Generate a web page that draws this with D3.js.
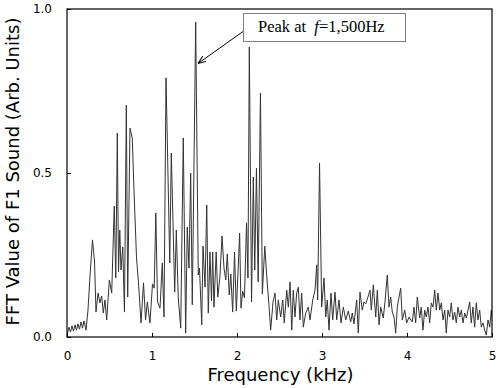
<!DOCTYPE html>
<html><head><meta charset="utf-8">
<script src="https://cdn.jsdelivr.net/npm/d3@7/dist/d3.min.js"></script>
<style>body{margin:0;background:#fff}svg{display:block}</style>
</head><body>
<svg id="c" width="500" height="388"></svg>
<script>
const freqKHz = [0.006,0.024,0.041,0.059,0.076,0.094,0.112,0.129,0.147,0.165,0.182,0.200,0.224,0.247,0.271,0.300,0.324,0.341,0.365,0.388,0.408,0.427,0.447,0.467,0.498,0.526,0.556,0.574,0.592,0.606,0.621,0.635,0.656,0.676,0.698,0.714,0.741,0.768,0.788,0.818,0.841,0.871,0.900,0.924,0.945,0.976,1.006,1.026,1.045,1.065,1.094,1.121,1.141,1.165,1.185,1.209,1.227,1.247,1.267,1.286,1.309,1.338,1.368,1.396,1.415,1.435,1.455,1.474,1.514,1.544,1.559,1.585,1.600,1.624,1.644,1.662,1.682,1.700,1.714,1.729,1.755,1.774,1.798,1.824,1.847,1.868,1.886,1.909,1.927,1.949,1.971,1.992,2.014,2.031,2.047,2.067,2.088,2.112,2.129,2.145,2.171,2.192,2.209,2.229,2.249,2.276,2.298,2.327,2.353,2.376,2.396,2.424,2.447,2.467,2.486,2.514,2.538,2.556,2.585,2.604,2.624,2.644,2.662,2.682,2.702,2.721,2.741,2.761,2.780,2.808,2.839,2.859,2.891,2.918,2.938,2.949,2.971,2.996,3.024,3.044,3.062,3.082,3.106,3.126,3.153,3.173,3.200,3.224,3.251,3.279,3.309,3.338,3.356,3.376,3.408,3.427,3.447,3.474,3.494,3.514,3.541,3.565,3.580,3.604,3.632,3.651,3.671,3.691,3.721,3.741,3.768,3.788,3.808,3.827,3.847,3.867,3.886,3.906,3.926,3.945,3.973,3.996,4.024,4.044,4.062,4.082,4.102,4.121,4.149,4.168,4.188,4.208,4.227,4.247,4.267,4.286,4.306,4.326,4.345,4.365,4.385,4.404,4.424,4.444,4.462,4.482,4.502,4.521,4.541,4.561,4.580,4.600,4.620,4.639,4.659,4.679,4.698,4.718,4.738,4.756,4.776,4.796,4.815,4.835,4.855,4.874,4.894,4.914,4.933,4.953,4.973,4.992,5.000];
const fftValue = [0.012,0.030,0.015,0.034,0.018,0.037,0.021,0.040,0.024,0.046,0.027,0.049,0.021,0.082,0.189,0.296,0.229,0.076,0.134,0.104,0.125,0.073,0.113,0.052,0.174,0.134,0.399,0.180,0.622,0.198,0.326,0.204,0.274,0.076,0.707,0.122,0.637,0.607,0.448,0.241,0.165,0.043,0.165,0.052,0.107,0.043,0.162,0.149,0.378,0.107,0.088,0.226,0.061,0.790,0.534,0.226,0.561,0.351,0.137,0.326,0.119,0.027,0.607,0.012,0.335,0.210,0.500,0.098,0.960,0.189,0.210,0.037,0.277,0.152,0.402,0.073,0.259,0.110,0.259,0.091,0.259,0.122,0.180,0.308,0.210,0.174,0.253,0.128,0.192,0.076,0.259,0.079,0.210,0.317,0.088,0.140,0.119,0.348,0.180,0.884,0.107,0.488,0.204,0.515,0.168,0.744,0.131,0.277,0.174,0.098,0.021,0.107,0.134,0.052,0.113,0.061,0.113,0.043,0.143,0.091,0.168,0.021,0.143,0.061,0.134,0.152,0.052,0.134,0.030,0.073,0.091,0.052,0.113,0.143,0.220,0.113,0.530,0.091,0.180,0.061,0.113,0.021,0.134,0.052,0.137,0.052,0.113,0.043,0.091,0.052,0.079,0.046,0.073,0.040,0.113,0.012,0.137,0.082,0.107,0.101,0.122,0.143,0.082,0.159,0.061,0.143,0.037,0.091,0.058,0.107,0.189,0.091,0.122,0.076,0.061,0.012,0.091,0.122,0.149,0.052,0.082,0.043,0.061,0.052,0.046,0.091,0.043,0.122,0.058,0.091,0.021,0.082,0.061,0.091,0.043,0.104,0.091,0.143,0.082,0.134,0.082,0.104,0.052,0.082,0.012,0.082,0.061,0.104,0.052,0.076,0.043,0.091,0.061,0.082,0.043,0.073,0.058,0.082,0.107,0.043,0.091,0.030,0.104,0.052,0.082,0.030,0.043,0.021,0.006,0.052,0.030,0.082,0.061];
const xTicks = [0,1,2,3,4,5];
const yTicks = [0.0,0.5,1.0];
const xTitle = "Frequency (kHz)";
const yTitle = "FFT Value of F1 Sound (Arb. Units)";
const peakFreq = 1.514, peakVal = 0.960;

const svg = d3.select("#c");
const L = 67, R = 492, T = 9, B = 337;
const x = d3.scaleLinear().domain([0,5]).range([L,R]);
const y = d3.scaleLinear().domain([0,1]).range([B,T]);
const data = freqKHz.map((f,i)=>({f, v: fftValue[i]}));

svg.append("defs").append("clipPath").attr("id","clip")
  .append("rect").attr("x",L).attr("y",T).attr("width",R-L).attr("height",B-T);

svg.append("path").datum(data)
  .attr("clip-path","url(#clip)")
  .attr("fill","none").attr("stroke","#333").attr("stroke-width",1)
  .attr("d", d3.line().x(d=>x(d.f)).y(d=>y(d.v)));

const font = "'DejaVu Sans', Verdana, sans-serif";
const xa = svg.append("g").attr("transform",`translate(0,${B})`)
  .call(d3.axisBottom(x).tickValues(xTicks).tickFormat(d3.format("d")).tickSizeInner(-4).tickSizeOuter(0).tickPadding(14));
const ya = svg.append("g").attr("transform",`translate(${L},0)`)
  .call(d3.axisLeft(y).tickValues(yTicks).tickFormat(d3.format(".1f")).tickSizeInner(-4).tickSizeOuter(0).tickPadding(15));
[xa,ya].forEach(g=>{
  g.select(".domain").remove();
  g.selectAll("line").attr("stroke","#000");
  g.selectAll("text").attr("font-family",font).attr("font-size",12).attr("fill","#000");
});

svg.append("rect").attr("x",L).attr("y",T).attr("width",R-L).attr("height",B-T)
  .attr("fill","none").attr("stroke","#000").attr("stroke-width",1.2);

svg.append("text").attr("x",(L+R)/2+1).attr("y",381).attr("text-anchor","middle")
  .attr("font-family",font).attr("font-size",18).attr("fill","#000").text(xTitle);
svg.append("text").attr("transform","translate(18.5,171.5) rotate(-90)").attr("text-anchor","middle")
  .attr("font-family",font).attr("font-size",18).attr("fill","#000").text(yTitle);

// annotation
svg.append("defs").append("marker").attr("id","arr").attr("viewBox","0 0 10 10")
  .attr("refX",9).attr("refY",5).attr("markerWidth",8).attr("markerHeight",8).attr("orient","auto")
  .append("path").attr("d","M0,1 L10,5 L0,9").attr("fill","none").attr("stroke","#000").attr("stroke-width",1.3);
svg.append("line").attr("x1",243).attr("y1",31.5).attr("x2",x(peakFreq)+3).attr("y2",63)
  .attr("stroke","#000").attr("stroke-width",1).attr("marker-end","url(#arr)");
svg.append("rect").attr("x",243.5).attr("y",13.5).attr("width",162).attr("height",28)
  .attr("fill","#fff").attr("stroke","#808080").attr("stroke-width",1);
const t = svg.append("text").attr("x",258).attr("y",32).attr("font-family","'Liberation Serif', 'Times New Roman', serif")
  .attr("font-size",16.5).attr("fill","#000").style("white-space","pre");
t.append("tspan").text("Peak at  ");
t.append("tspan").attr("font-style","italic").text("f");
t.append("tspan").text("=1,500Hz");
</script>
</body></html>
